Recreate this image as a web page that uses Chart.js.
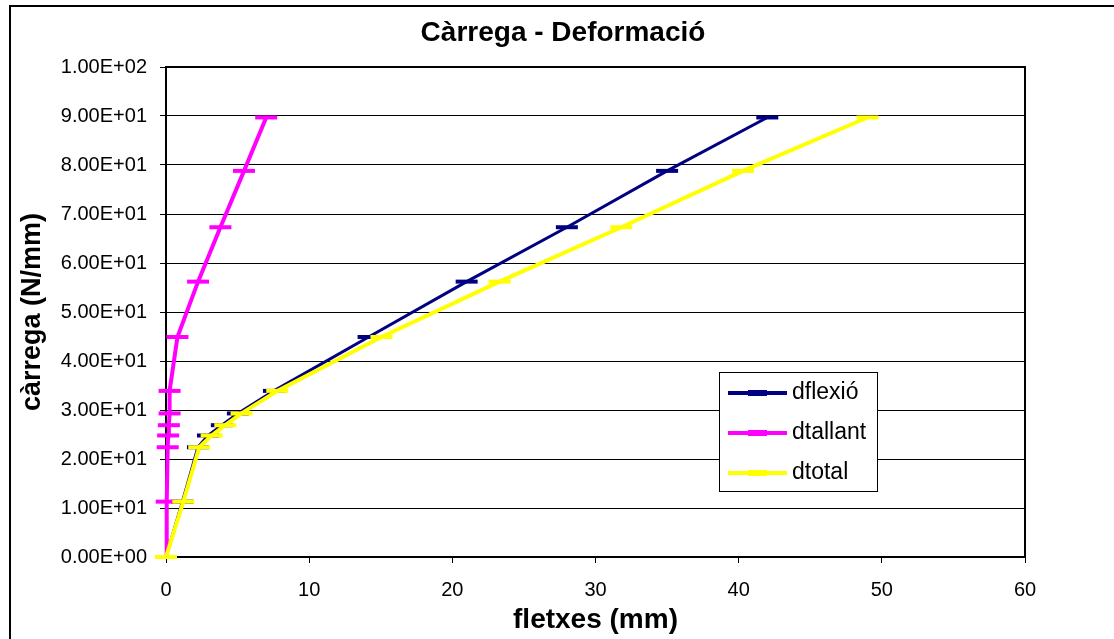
<!DOCTYPE html>
<html>
<head>
<meta charset="utf-8">
<title>Càrrega - Deformació</title>
<script src="https://cdn.jsdelivr.net/npm/chart.js@4.4.1/dist/chart.umd.min.js"></script>
<style>
  html, body { margin: 0; padding: 0; background: #fff; }
  #wrap { position: relative; width: 1114px; height: 639px; }
</style>
</head>
<body>
<div id="wrap"><canvas id="chart" width="1114" height="639"></canvas></div>
<script>
// load steps (N/mm)
const carrega  = [0, 11.3, 22.4, 24.8, 26.9, 29.3, 33.9, 44.9, 56.2, 67.3, 78.8, 89.7];
// deflections (mm) at each load step
const dflexio  = [0, 1.15, 2.23, 2.93, 3.9, 5.02, 7.54, 14.15, 21.0, 28.0, 35.0, 42.0];
const dtallant = [0, 0.05, 0.12, 0.15, 0.2, 0.25, 0.25, 0.8, 2.24, 3.8, 5.45, 7.0];
const dtotal   = [0, 1.21, 2.32, 3.19, 4.14, 5.28, 7.77, 15.05, 23.3, 31.8, 40.3, 49.0];

const seriesNames = ['dflexió', 'dtallant', 'dtotal'];
const seriesColors = ['#000080', '#ff00ff', '#ffff00'];
const xTicks = [0, 10, 20, 30, 40, 50, 60];
const yTicks = [0, 10, 20, 30, 40, 50, 60, 70, 80, 90, 100];

const FONT = "'Liberation Sans', Arial, sans-serif";

function sci(v) {
    if (v === 0) return '0.00E+00';
    const e = Math.floor(Math.log10(Math.abs(v)) + 1e-9);
    const m = v / Math.pow(10, e);
    return m.toFixed(2) + 'E' + (e < 0 ? '-' : '+') + String(Math.abs(e)).padStart(2, '0');
}

function pts(xs) {
    return carrega.map((y, i) => ({ x: xs[i], y: y }));
}

// outer frame + plot-area border
const frame = {
    id: 'frame',
    beforeDraw(chart) {
        const c = chart.ctx;
        c.save();
        c.fillStyle = '#fff';
        c.fillRect(0, 0, chart.width, chart.height);
        c.strokeStyle = '#000';
        c.lineWidth = 2;
        c.strokeRect(10, 6, chart.width + 20, chart.height + 20);
        c.restore();
    },
    beforeDatasetsDraw(chart) {
        const a = chart.chartArea;
        const c = chart.ctx;
        c.save();
        c.strokeStyle = '#000';
        c.lineWidth = 2;
        c.strokeRect(Math.round(a.left), Math.round(a.top), Math.round(a.right - a.left), Math.round(a.bottom - a.top));
        c.restore();
    }
};

// boxed legend inside the plot, like the spreadsheet one
const boxLegend = {
    id: 'boxLegend',
    afterDraw(chart) {
        const c = chart.ctx;
        const bx = 719.5, by = 372.5, bw = 158, bh = 119;
        c.save();
        c.fillStyle = '#fff';
        c.fillRect(bx, by, bw, bh);
        c.strokeStyle = '#000';
        c.lineWidth = 1;
        c.strokeRect(bx, by, bw, bh);
        const rows = [393, 433, 473];
        chart.data.datasets.forEach((ds, i) => {
            const y = rows[i];
            c.strokeStyle = ds.borderColor;
            c.lineWidth = 4;
            c.beginPath(); c.moveTo(728, y); c.lineTo(787, y); c.stroke();
            c.lineWidth = 6;
            c.beginPath(); c.moveTo(748, y); c.lineTo(767, y); c.stroke();
            c.fillStyle = '#000';
            c.font = '23px ' + FONT;
            c.textBaseline = 'middle';
            c.textAlign = 'left';
            c.fillText(ds.label, 792, y);
        });
        c.restore();
    }
};

const series = [dflexio, dtallant, dtotal];
const widths = [3, 4, 4];

new Chart(document.getElementById('chart'), {
    type: 'scatter',
    data: {
        datasets: series.map((s, i) => ({
            label: seriesNames[i],
            data: pts(s),
            showLine: true,
            tension: 0,
            borderColor: seriesColors[i],
            backgroundColor: seriesColors[i],
            borderWidth: widths[i],
            pointStyle: 'line',
            pointRadius: 11,
            pointHoverRadius: 11,
            pointBorderWidth: 4,
            pointBorderColor: seriesColors[i],
            clip: false,
            order: series.length - i
        }))
    },
    options: {
        responsive: false,
        animation: false,
        events: [],
        layout: { padding: { left: 12, right: 0, top: 0, bottom: 0 } },
        plugins: {
            legend: { display: false },
            tooltip: { enabled: false },
            title: {
                display: true,
                text: 'Càrrega - Deformació',
                color: '#000',
                font: { family: FONT, size: 28, weight: 'bold' },
                padding: { top: 16.5, bottom: 16.9 }
            }
        },
        scales: {
            x: {
                type: 'linear',
                min: xTicks[0],
                max: xTicks[xTicks.length - 1],
                afterFit(scale) { scale.height = 82; },
                ticks: {
                    stepSize: xTicks[1] - xTicks[0],
                    color: '#000',
                    padding: 15,
                    font: { family: FONT, size: 20 }
                },
                grid: { drawOnChartArea: false, drawTicks: true, tickLength: 6, color: '#000', lineWidth: 1 },
                border: { display: true, color: '#000', width: 2 },
                title: {
                    display: true,
                    text: 'fletxes (mm)',
                    color: '#000',
                    font: { family: FONT, size: 28, weight: 'bold' },
                    padding: { top: 0, bottom: 2 }
                }
            },
            y: {
                type: 'linear',
                min: yTicks[0],
                max: yTicks[yTicks.length - 1],
                afterFit(scale) { scale.width = 154; },
                ticks: {
                    stepSize: yTicks[1] - yTicks[0],
                    color: '#000',
                    padding: 13,
                    font: { family: FONT, size: 20 },
                    callback: v => sci(v)
                },
                grid: { drawTicks: true, tickLength: 6, color: '#000', lineWidth: 1 },
                border: { display: true, color: '#000', width: 2 },
                title: {
                    display: true,
                    text: 'càrrega (N/mm)',
                    color: '#000',
                    font: { family: FONT, size: 27, weight: 'bold' },
                    padding: { top: 4, bottom: 0 }
                }
            },
            // empty right-hand strip so the plot ends where the reference's does
            yr: {
                type: 'linear',
                position: 'right',
                min: yTicks[0],
                max: yTicks[yTicks.length - 1],
                afterFit(scale) { scale.width = 89; },
                ticks: { display: false },
                grid: { display: false, drawTicks: false },
                border: { display: false }
            }
        }
    },
    plugins: [frame, boxLegend]
});
</script>
</body>
</html>
